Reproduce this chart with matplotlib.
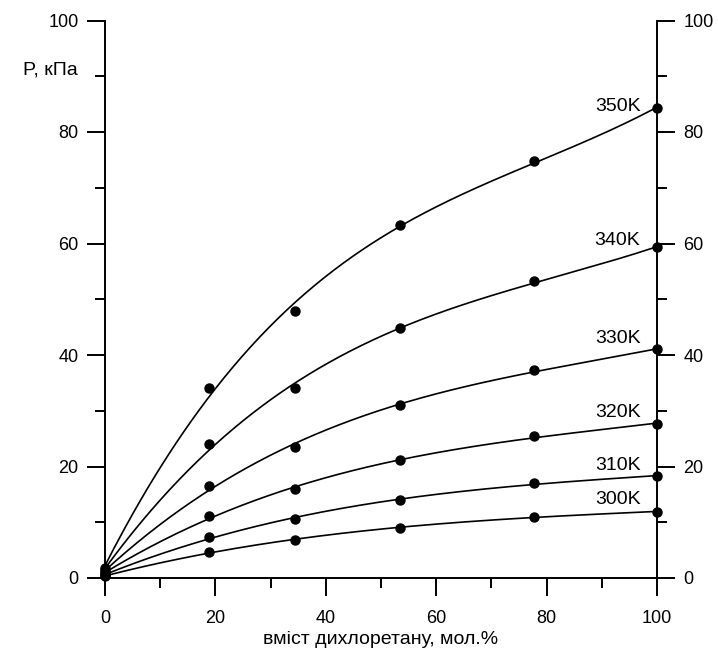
import numpy as np
import matplotlib.pyplot as plt
from matplotlib.ticker import MultipleLocator

plt.rcParams['font.family'] = ['Liberation Sans', 'DejaVu Sans']

# composition, mol.% of dichloroethane
x = np.array([0, 18.8, 34.5, 53.4, 77.8, 100])

# pressure, kPa, for each temperature
p300 = [0.3, 4.7, 6.8, 9.0, 11.0, 11.9]
p310 = [0.5, 7.4, 10.6, 14.0, 17.0, 18.3]
p320 = [0.8, 11.2, 15.9, 21.1, 25.4, 27.7]
p330 = [1.1, 16.5, 23.5, 31.1, 37.3, 41.0]
p340 = [1.4, 24.0, 34.0, 44.8, 53.3, 59.3]
p350 = [1.8, 34.0, 47.9, 63.3, 74.8, 84.3]

labels = ['300K', '310K', '320K', '330K', '340K', '350K']
series = [p300, p310, p320, p330, p340, p350]
label_dy = [2.2, 1.9, 1.9, 1.9, 1.3, 0.2]  # label lift above last point

fig = plt.figure(figsize=(7.18, 6.55), dpi=100)
ax = fig.add_axes([105/718, 1 - 578/655, (657-105)/718, (578-20.5)/655])

xs = np.linspace(0, 100, 300)
for lab, p, dy in zip(labels, series, label_dy):
    p = np.array(p)
    # smooth fitted curve through the measurements
    c = np.polyfit(x, p, 3)
    ax.plot(xs, np.polyval(c, xs), color='black', lw=1.2, clip_on=False)
    ax.plot(x, p, 'o', color='black', ms=6.5, clip_on=False, zorder=3)
    ax.text(97, p[-1] + dy, lab, ha='right', va='center', fontsize=14)

ax.set_xlim(0, 100)
ax.set_ylim(0, 100)
ax.spines['top'].set_visible(False)
for s in ['left', 'right', 'bottom']:
    ax.spines[s].set_linewidth(1.4)

ax.xaxis.set_major_locator(MultipleLocator(20))
ax.xaxis.set_minor_locator(MultipleLocator(10))
ax.yaxis.set_major_locator(MultipleLocator(20))
ax.yaxis.set_minor_locator(MultipleLocator(10))
ax.tick_params(which='both', direction='out', width=1.4, labelsize=13,
               left=True, right=True, labelright=True)
ax.tick_params(which='major', length=13)
ax.tick_params(which='minor', length=7)
ax.tick_params(axis='y', pad=6)
ax.tick_params(axis='x', pad=10)

ax.set_xlabel('вміст дихлоретану, мол.%', fontsize=14, labelpad=3)
fig.text(78/718, 1 - 70/655, 'P, кПа', ha='right', va='center', fontsize=14)

fig.savefig('out.png', dpi=100)
